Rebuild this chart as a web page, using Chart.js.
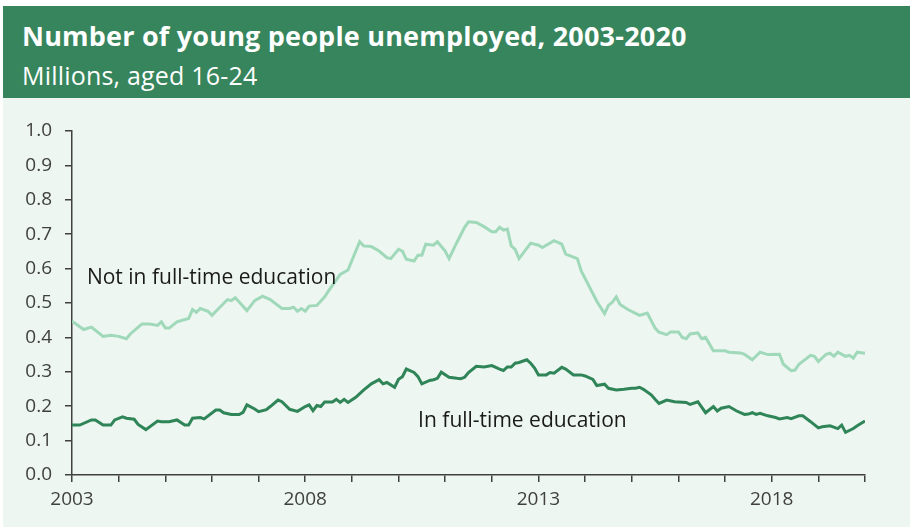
<!DOCTYPE html>
<html>
<head>
<meta charset="utf-8">
<script src="https://cdn.jsdelivr.net/npm/chart.js@4.4.1/dist/chart.umd.min.js"></script>
<style>
  html, body { margin: 0; padding: 0; background: #ffffff; }
  body { width: 913px; height: 530px; position: relative; overflow: hidden; font-family: "Open Sans", sans-serif; }
  #header { position: absolute; left: 3px; top: 6px; width: 907px; height: 92px; background: #37855c; }
  #title { position: absolute; left: 19px; top: 14px; color: #fff; font-weight: 700; font-size: 27px; line-height: 32px; letter-spacing: 0.2px; white-space: nowrap; }
  #subtitle { position: absolute; left: 19px; top: 53px; color: #fff; font-weight: 400; font-size: 25px; line-height: 32px; letter-spacing: 0.2px; white-space: nowrap; }
  #panel { position: absolute; left: 3px; top: 98px; width: 907px; height: 429px; background: #edf6f0; }
  #wrap { position: absolute; left: 0; top: 98px; width: 913px; height: 432px; }
</style>
</head>
<body>
<div id="header">
  <div id="title">Number of young people unemployed, 2003-2020</div>
  <div id="subtitle">Millions, aged 16-24</div>
</div>
<div id="panel"></div>
<div id="wrap"><canvas id="chart" width="913" height="432"></canvas></div>
<script>
// 값은 그림에서 읽은 추정치 (백만 명)
const notInEduDates = [
  '2003-01','2003-04','2003-06','2003-09','2003-11','2004-01','2004-03','2004-04','2004-07','2004-09',
  '2004-11','2004-12','2005-01','2005-02','2005-04','2005-07','2005-08','2005-09','2005-10','2005-12',
  '2006-01','2006-05','2006-06','2006-07','2006-10','2006-12','2007-02','2007-04','2007-07','2007-09',
  '2007-10','2007-11','2007-12','2008-01','2008-02','2008-04','2008-06','2008-07','2008-10','2008-12',
  '2009-03','2009-04','2009-06','2009-08','2009-10','2009-11','2010-01','2010-02','2010-03','2010-05',
  '2010-06','2010-07','2010-08','2010-10','2010-11','2011-01','2011-02','2011-04','2011-06','2011-07',
  '2011-09','2011-11','2012-01','2012-02','2012-03','2012-04','2012-05','2012-06','2012-07','2012-08',
  '2012-11','2013-01','2013-02','2013-05','2013-07','2013-08','2013-11','2013-12','2014-04','2014-06',
  '2014-07','2014-08','2014-09','2014-10','2014-12','2015-03','2015-05','2015-07','2015-08','2015-10',
  '2015-11','2016-01','2016-02','2016-03','2016-04','2016-06','2016-07','2016-08','2016-10','2017-01',
  '2017-02','2017-05','2017-06','2017-08','2017-10','2017-12','2018-03','2018-04','2018-06','2018-07',
  '2018-08','2018-11','2018-12','2019-01','2019-03','2019-04','2019-05','2019-06','2019-08','2019-09',
  '2019-10','2019-11','2020-01'
];
const notInEduValues = [
  0.447,0.423,0.430,0.403,0.406,0.403,0.396,0.410,0.439,0.439,
  0.435,0.445,0.427,0.427,0.445,0.455,0.481,0.473,0.484,0.476,
  0.464,0.510,0.507,0.515,0.478,0.507,0.520,0.510,0.484,0.484,
  0.488,0.476,0.484,0.476,0.491,0.493,0.518,0.535,0.583,0.596,
  0.678,0.666,0.664,0.651,0.632,0.629,0.656,0.651,0.627,0.622,
  0.639,0.639,0.671,0.668,0.678,0.651,0.629,0.676,0.720,0.736,
  0.734,0.722,0.707,0.707,0.720,0.712,0.715,0.666,0.656,0.629,
  0.674,0.668,0.661,0.681,0.671,0.642,0.629,0.593,0.505,0.469,
  0.493,0.502,0.518,0.496,0.481,0.464,0.471,0.427,0.415,0.408,
  0.416,0.416,0.400,0.396,0.410,0.413,0.396,0.400,0.361,0.361,
  0.357,0.355,0.351,0.335,0.357,0.350,0.351,0.322,0.303,0.305,
  0.322,0.348,0.345,0.330,0.351,0.354,0.345,0.357,0.345,0.348,
  0.340,0.357,0.354
];

const inEduDates = [
  '2003-01','2003-03','2003-06','2003-07','2003-09','2003-11','2003-12','2004-02','2004-03','2004-05',
  '2004-06','2004-08','2004-11','2004-12','2005-02','2005-04','2005-06','2005-07','2005-08','2005-10',
  '2005-11','2006-02','2006-03','2006-04','2006-06','2006-08','2006-09','2006-10','2006-12','2007-01',
  '2007-03','2007-04','2007-06','2007-07','2007-09','2007-11','2008-01','2008-02','2008-03','2008-04',
  '2008-05','2008-06','2008-08','2008-09','2008-10','2008-11','2008-12','2009-02','2009-04','2009-06',
  '2009-08','2009-09','2009-10','2009-12','2010-01','2010-02','2010-03','2010-05','2010-06','2010-07',
  '2010-09','2010-10','2010-11','2010-12','2011-02','2011-04','2011-05','2011-06','2011-07','2011-09',
  '2011-11','2012-01','2012-03','2012-04','2012-05','2012-06','2012-07','2012-08','2012-10','2012-11',
  '2012-12','2013-01','2013-03','2013-04','2013-05','2013-07','2013-08','2013-10','2013-12','2014-01',
  '2014-03','2014-04','2014-06','2014-07','2014-09','2014-11','2015-01','2015-02','2015-03','2015-04',
  '2015-06','2015-07','2015-08','2015-10','2015-12','2016-03','2016-04','2016-06','2016-08','2016-10',
  '2016-11','2016-12','2017-02','2017-04','2017-06','2017-07','2017-08','2017-09','2017-10','2017-12',
  '2018-02','2018-03','2018-05','2018-06','2018-08','2018-09','2018-11','2019-01','2019-02','2019-04',
  '2019-06','2019-07','2019-08','2019-10','2019-11','2020-01'
];
const inEduValues = [
  0.145,0.145,0.160,0.160,0.145,0.145,0.160,0.169,0.165,0.162,
  0.147,0.132,0.157,0.155,0.155,0.160,0.145,0.145,0.165,0.167,
  0.163,0.189,0.189,0.181,0.176,0.176,0.182,0.204,0.192,0.184,
  0.190,0.199,0.218,0.213,0.191,0.185,0.199,0.204,0.187,0.202,
  0.199,0.212,0.212,0.220,0.211,0.220,0.211,0.226,0.247,0.265,
  0.277,0.265,0.269,0.255,0.278,0.286,0.308,0.298,0.286,0.265,
  0.275,0.277,0.281,0.299,0.284,0.281,0.280,0.284,0.298,0.316,
  0.314,0.318,0.308,0.304,0.314,0.314,0.325,0.327,0.335,0.325,
  0.311,0.291,0.291,0.298,0.296,0.313,0.308,0.291,0.291,0.288,
  0.278,0.260,0.264,0.252,0.247,0.249,0.252,0.252,0.255,0.249,
  0.233,0.220,0.208,0.218,0.213,0.211,0.205,0.213,0.181,0.199,
  0.186,0.194,0.199,0.186,0.176,0.177,0.181,0.176,0.179,0.172,
  0.167,0.163,0.167,0.164,0.172,0.172,0.155,0.137,0.140,0.143,
  0.135,0.145,0.124,0.135,0.143,0.157
];

const yearLabels = [2003, 2008, 2013, 2018];
const seriesLabels = ['Not in full-time education', 'In full-time education'];

const axisColor = '#404040';
const tickFont = { family: 'Open Sans', size: 19 };

// "YYYY-MM" -> 소수 연도
function toYear(s) {
  const [y, m] = s.split('-').map(Number);
  return y + (m - 1) / 12;
}
function toPoints(dates, values) {
  return dates.map((d, i) => ({ x: toYear(d), y: values[i] }));
}

// 선 옆에 붙는 시리즈 이름
const lineLabels = {
  id: 'lineLabels',
  afterDatasetsDraw(chart) {
    const { ctx, scales } = chart;
    ctx.save();
    ctx.fillStyle = '#1a1a1a';
    ctx.font = '21px "Open Sans"';
    ctx.textBaseline = 'alphabetic';
    ctx.fillText(seriesLabels[0], scales.x.getPixelForValue(2003.32), scales.y.getPixelForValue(0.556));
    ctx.fillText(seriesLabels[1], scales.x.getPixelForValue(2010.42), scales.y.getPixelForValue(0.140));
    ctx.restore();
  }
};

new Chart(document.getElementById('chart'), {
  type: 'line',
  data: {
    datasets: [
      {
        label: seriesLabels[0],
        data: toPoints(notInEduDates, notInEduValues),
        borderColor: '#a0d9ba',
        borderWidth: 3,
        pointRadius: 0,
        tension: 0,
        fill: false
      },
      {
        label: seriesLabels[1],
        data: toPoints(inEduDates, inEduValues),
        borderColor: '#2f8558',
        borderWidth: 3,
        pointRadius: 0,
        tension: 0,
        fill: false
      }
    ]
  },
  options: {
    responsive: false,
    animation: false,
    layout: { padding: { left: 0, right: 48, top: 33, bottom: 0 } },
    plugins: {
      legend: { display: false },
      tooltip: { enabled: false }
    },
    scales: {
      x: {
        type: 'linear',
        min: 2003,
        max: 2020,
        afterFit(scale) { scale.height = 55; },
        afterBuildTicks(scale) {
          const t = [];
          for (let y = 2003; y <= 2020; y++) t.push({ value: y });
          scale.ticks = t;
        },
        grid: { drawOnChartArea: false, drawTicks: true, tickLength: 7, color: axisColor, lineWidth: 1.5 },
        border: { display: true, color: axisColor, width: 1.5 },
        ticks: {
          autoSkip: false,
          maxRotation: 0,
          padding: 6,
          color: axisColor,
          font: tickFont,
          callback: v => yearLabels.includes(v) ? String(v) : ''
        }
      },
      y: {
        min: 0,
        max: 1,
        afterFit(scale) { scale.width = 72; },
        grid: { drawOnChartArea: false, drawTicks: true, tickLength: 7, color: axisColor, lineWidth: 1.5 },
        border: { display: true, color: axisColor, width: 1.5 },
        ticks: {
          stepSize: 0.1,
          padding: 13,
          color: axisColor,
          font: tickFont,
          callback: v => v.toFixed(1)
        }
      }
    }
  },
  plugins: [lineLabels]
});
</script>
</body>
</html>
